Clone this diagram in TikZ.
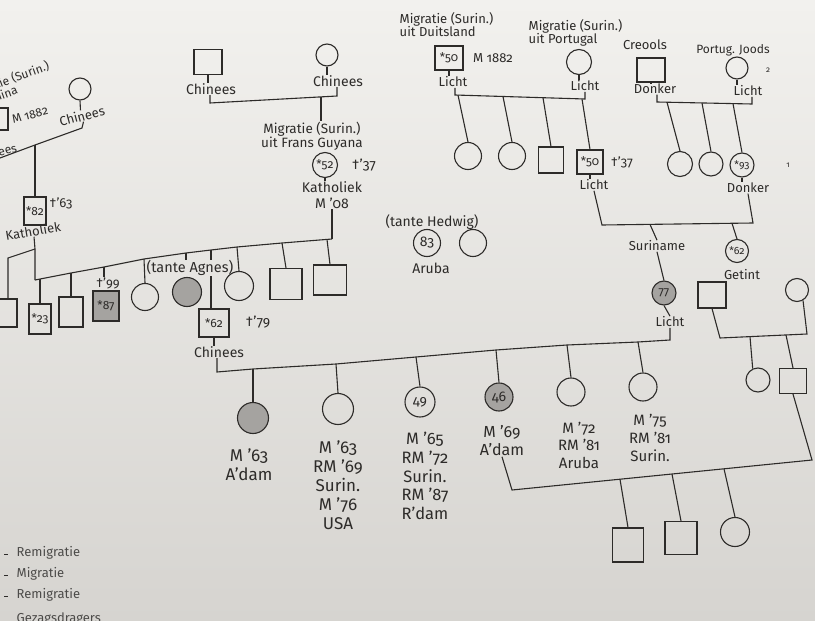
\documentclass[tikz,border=0pt]{standalone}
\usepackage{fontspec}
\setmainfont{Fira Sans}[Numbers=OldStyle]
\definecolor{ink}{RGB}{45,43,41}
\definecolor{shadefill}{RGB}{165,163,160}
\definecolor{papertop}{RGB}{242,241,238}
\definecolor{paperbot}{RGB}{214,212,208}
\tikzset{
  ln/.style={draw=ink, line width=1.1pt},
  sq/.style={draw=ink, line width=1.1pt, rectangle, minimum width=26pt, minimum height=25pt, inner sep=0pt, font=\fontsize{12}{13}\selectfont, text=ink},
  ci/.style={draw=ink, line width=1.1pt, circle, minimum size=26pt, inner sep=0pt, font=\fontsize{12}{13}\selectfont, text=ink},
  gr/.style={fill=shadefill},
  ts/.style={font=\fontsize{13}{13}\selectfont, text=ink, inner sep=0.5pt, align=center},
  tm/.style={font=\fontsize{14}{16}\selectfont, text=ink, inner sep=0.5pt, align=center},
  tb/.style={font=\fontsize{17}{19}\selectfont, text=ink, inner sep=0.5pt, align=center},
  tn/.style={font=\fontsize{8}{9}\selectfont, text=ink, inner sep=0.5pt},
  lg/.style={font=\fontsize{13}{14}\selectfont, text=ink!85, inner sep=0.5pt, anchor=west},
}
\begin{document}
\begin{tikzpicture}[x=1pt,y=-1pt]
\useasboundingbox (0,0) rectangle (815,621);
\shade[top color=papertop, bottom color=paperbot] (0,0) rectangle (815,621);
\clip (0,0) rectangle (815,621);

% ---------- top-left family (cut off) ----------
\node[ts, rotate=20, align=left, anchor=north east, font=\fontsize{12}{12}\selectfont] (tlMig) at (47,59) {Migratie (Surin.)\\uit China};
\node[sq, minimum width=26pt, minimum height=22pt] (tlSq) at (-5,119) {};
\node[ts, rotate=15, font=\fontsize{12}{12}\selectfont] (tlM) at (30,115) {M 1882};
\node[ts, rotate=15, anchor=east, font=\fontsize{12}{12}\selectfont] (tlChA) at (17,147) {Chinees};
\node[ci, minimum size=22pt] (tlC) at (80,89) {};
\node[ts, rotate=15] (tlChB) at (82,116) {Chinees};
\coordinate (tlJa) at (82,128);
\coordinate (tlJb) at (35,145);
\coordinate (tlJc) at (0,158);
\draw[ln] (tlC.south) -- (tlChB.north);
\draw[ln] (tlChB.south) -- (tlJa) -- (tlJb) -- (tlJc);
\node[sq, minimum width=22pt, minimum height=28pt] (s82) at (35,211) {*82};
\draw[ln] (tlJb) -- (s82.north);
\node[ts] (d63) at (61,203) {†'63};
\node[ts, rotate=10] (kat1) at (33,231) {Katholiek};
\coordinate (kJ) at (35,249);
\coordinate (sibL) at (35,280);
\draw[ln] (kat1.south) -- (kJ) -- (sibL);
\coordinate (lJ) at (8,258);
\node[sq, minimum width=26pt, minimum height=28pt] (sL) at (4,313) {};
\draw[ln] (kJ) -- (lJ) -- (lJ |- sL.north);

% ---------- siblings of the middle generation ----------
\coordinate (m1) at (40,279);
\coordinate (m2) at (71,273);
\coordinate (m3) at (104,267);
\coordinate (m4) at (144,259);
\coordinate (m5) at (186,253);
\coordinate (m6) at (211,250);
\coordinate (m7) at (237,247);
\coordinate (m8) at (282,243);
\coordinate (m9) at (327,239.5);
\coordinate (sibR) at (332,239);
\draw[ln] (sibL) -- (m2) -- (m3) -- (m4) -- (m5) -- (m6) -- (m7) -- (m8) -- (sibR);

\node[sq, minimum width=22pt, minimum height=30pt] (s23) at (40,319) {*23};
\draw[ln] (m1) -- (s23.north);
\node[sq, minimum width=24pt, minimum height=30pt] (sB) at (71,312) {};
\draw[ln] (m2) -- (sB.north);
\node[ts] (d99) at (108,283) {†'99};
\node[sq, gr, minimum width=26pt, minimum height=30pt] (s87) at (106,306) {*87};
\draw[ln] (m3) -- (m3 |- d99.north);
\node[ci, minimum size=27pt] (cA) at (145,297) {};
\draw[ln] (m4) -- (cA.north);
\node[tm, font=\fontsize{14.5}{16}\selectfont] (tAg) at (190,268) {(tante Agnes)};
\node[ci, gr, minimum size=29pt] (cAg) at (187,292) {};
\draw[ln] (m5) -- (m5 |- tAg.north);
\node[sq, minimum width=30pt, minimum height=28pt] (s62) at (214,323) {*62};
\draw[ln] (m6) -- (m6 |- tAg.north);
\draw[ln] (m6 |- tAg.south) -- (m6 |- s62.north);
\node[tm] (d79) at (258,322) {†'79};
\node[ci, minimum size=29pt] (cC) at (239,286) {};
\draw[ln] (m7) -- (cC.north);
\node[sq, minimum width=32pt, minimum height=31pt] (sD) at (286,284) {};
\draw[ln] (m8) -- (sD.north);
\node[sq, minimum width=33pt, minimum height=30pt] (sE) at (330,280) {};
\draw[ln] (m9) -- (sE.north);

% ---------- top-middle family ----------
\node[sq, minimum width=28pt, minimum height=25pt] (sT1) at (208,62) {};
\node[tm] (tCh1) at (211,89) {Chinees};
\draw[ln] (sT1.south) -- (sT1.south |- tCh1.north);
\node[ci, minimum size=22pt] (cT2) at (327,55) {};
\node[tm] (tCh2) at (338,81) {Chinees};
\draw[ln] (cT2.south) -- (cT2.south |- tCh2.north);
\coordinate (tpA) at (210,103);
\coordinate (tpB) at (337,96);
\coordinate (tpJ) at (321,97);
\draw[ln] (tpA |- tCh1.south) -- (tpA) -- (tpB) -- (tpB |- tCh2.south);
\node[tm, font=\fontsize{13.5}{13}\selectfont] (mig2) at (312,136) {Migratie (Surin.)\\uit Frans Guyana};
\draw[ln] (tpJ) -- (tpJ |- mig2.north);
\node[ci, minimum size=25pt] (c52) at (325,165) {*52};
\node[tm] (d37a) at (364,165) {†'37};
\node[tm] (kat2) at (332,195) {Katholiek\\M '08};
\draw[ln] (c52.south) -- (c52.south |- kat2.north);
\draw[ln] (sibR |- kat2.south) -- (sibR);

% ---------- top-right families ----------
\node[ts, align=left, anchor=north west] (migD) at (399,12) {Migratie (Surin.)\\uit Duitsland};
\node[sq, minimum width=28pt, minimum height=24pt] (s50a) at (449,58) {*50};
\node[ts] (m1882) at (493,58) {M 1882};
\node[ts] (li1) at (453,82) {Licht};
\draw[ln] (s50a.south) -- (s50a.south |- li1.north);
\node[ts, align=left, anchor=north west] (migP) at (528,19) {Migratie (Surin.)\\uit Portugal};
\node[ci, minimum size=25pt] (cP) at (579,62) {};
\node[ts] (li2) at (585,86) {Licht};
\draw[ln] (cP.south) -- (cP.south |- li2.north);
\coordinate (trA) at (455,95);
\coordinate (trB) at (585,99);
\draw[ln] (trA |- li1.south) -- (trA) -- (trB) -- (trB |- li2.south);

\node[ts] (cre) at (645,45) {Creools};
\node[sq, minimum width=28pt, minimum height=24pt] (sCr) at (651,70) {};
\node[ts] (dk1) at (655,89) {Donker};
\draw[ln] (sCr.south) -- (sCr.south |- dk1.north);
\node[ts, font=\fontsize{12}{12}\selectfont] (pj) at (733,50) {Portug. Joods};
\node[ci, minimum size=22pt] (cPJ) at (737,68) {};
\node[ts] (li3) at (748,91) {Licht};
\draw[ln] (cPJ.south) -- (cPJ.south |- li3.north);
\node[tn] (n2) at (768,70) {2};
\coordinate (trC) at (657,102);
\coordinate (trD) at (752,104);
\draw[ln] (trC |- dk1.south) -- (trC) -- (trD) -- (trD |- li3.south);

\coordinate (k1) at (458,95.1);
\coordinate (k2) at (503,96.5);
\coordinate (k3) at (543,97.7);
\coordinate (k4) at (582,98.9);
\node[ci, minimum size=27pt] (c1) at (468,156) {};
\draw[ln] (k1) -- (c1.north);
\node[ci, minimum size=27pt] (c2) at (512,156) {};
\draw[ln] (k2) -- (c2.north);
\node[sq, minimum width=25pt, minimum height=26pt] (s3) at (551,160) {};
\draw[ln] (k3) -- (s3.north);
\node[sq, minimum width=26pt, minimum height=24pt] (s50b) at (590,162) {*50};
\draw[ln] (k4) -- (s50b.north);
\node[ts] (d37b) at (622,162) {†'37};
\node[ts] (li4) at (594,185) {Licht};
\draw[ln] (s50b.south) -- (s50b.south |- li4.north);

\coordinate (k5) at (667,102.2);
\coordinate (k6) at (702,103);
\coordinate (k7) at (733,103.6);
\node[ci, minimum size=25pt] (c4) at (680,164) {};
\draw[ln] (k5) -- (c4.north);
\node[ci, minimum size=24pt] (c5) at (711,164) {};
\draw[ln] (k6) -- (c5.north);
\node[ci, minimum size=24pt, font=\fontsize{10.5}{11}\selectfont] (c93) at (742,165) {*93};
\draw[ln] (k7) -- (c93.north);
\node[ts] (dk2) at (748,188) {Donker};
\draw[ln] (c93.south) -- (c93.south |- dk2.north);
\node[tn] (n1) at (788,165) {1};

\coordinate (brA) at (602,225);
\coordinate (brB) at (753,223);
\draw[ln] (li4.south) -- (brA) -- (brB) -- (dk2.south);
\coordinate (br1) at (650,224.4);
\coordinate (br2) at (732,223.3);
\node[ts] (sur) at (657,246) {Suriname};
\draw[ln] (br1) -- (sur.north);
\node[ci, gr, minimum size=24pt] (c77) at (664,293) {77};
\draw[ln] (sur.south) -- (c77.north);
\node[ts] (li5) at (670,322) {Licht};
\draw[ln] (c77.south) -- (li5.north);
\node[ci, minimum size=23pt, font=\fontsize{10.5}{11}\selectfont] (c62b) at (737,251) {*62};
\draw[ln] (br2) -- (c62b.north);
\node[ts] (get) at (742,275) {Getint};

% ---------- right family ----------
\node[sq, minimum width=28pt, minimum height=26pt] (sR) at (712,295) {};
\node[ci, minimum size=23pt] (cR) at (797,290) {};
\coordinate (rA) at (720,338);
\coordinate (rB) at (807,334);
\draw[ln] (sR.south) -- (rA) -- (rB) -- (cR.-60);
\coordinate (r1) at (750,336.6);
\coordinate (r2) at (786,335);
\node[ci, minimum size=24pt] (cR1) at (758,380) {};
\draw[ln] (r1) -- (cR1.115);
\node[sq, minimum width=27pt, minimum height=25pt] (sR2) at (793,381) {};
\draw[ln] (r2) -- (sR2.north);

% ---------- bottom generation ----------
\node[tm] (tCh3) at (219,352) {Chinees};
\draw[ln] (s62.south) -- (s62.south |- tCh3.north);
\coordinate (b0) at (217,372);
\coordinate (b1) at (253,369);
\coordinate (b2) at (336,364);
\coordinate (b3) at (416,357);
\coordinate (b4) at (496,350);
\coordinate (b5) at (567,345);
\coordinate (b6) at (638,342);
\coordinate (b7) at (670,340);
\draw[ln] (b0 |- tCh3.south) -- (b0) -- (b1) -- (b2) -- (b3) -- (b4) -- (b5) -- (b6) -- (b7) -- (b7 |- li5.south);

\node[ci, gr, minimum size=31pt] (g1) at (253,418) {};
\draw[ln] (b1) -- (g1.north);
\node[tb] (g1t) at (249,465) {M '63\\A'dam};
\node[ci, minimum size=31pt] (g2) at (338,409) {};
\draw[ln] (b2) -- (g2.north);
\node[tb] (g2t) at (338,485) {M '63\\RM '69\\Surin.\\M '76\\USA};
\node[ci, minimum size=30pt, font=\fontsize{14}{15}\selectfont] (g3) at (420,402) {49};
\draw[ln] (b3) -- (g3.north);
\node[tb, font=\fontsize{16.5}{18.8}\selectfont] (g3t) at (425,476) {M '65\\RM '72\\Surin.\\RM '87\\R'dam};
\node[ci, gr, minimum size=28pt, font=\fontsize{14}{15}\selectfont] (g4) at (499,397) {46};
\draw[ln] (b4) -- (g4.north);
\node[tb, font=\fontsize{16}{18}\selectfont] (g4t) at (502,441) {M '69\\A'dam};
\node[ci, minimum size=28pt] (g5) at (571,392) {};
\draw[ln] (b5) -- (g5.north);
\node[tb, font=\fontsize{15}{17.5}\selectfont] (g5t) at (579,445) {M '72\\RM '81\\Aruba};
\node[ci, minimum size=28pt] (g6) at (643,387) {};
\draw[ln] (b6) -- (g6.north);
\node[tb, font=\fontsize{15}{18}\selectfont] (g6t) at (650,438) {M '75\\RM '81\\Surin.};

% ---------- grandchildren ----------
\coordinate (gA) at (512,490);
\coordinate (gB) at (812,460);
\draw[ln] (g4t.south) -- (gA) -- (gB) -- (sR2.south);
\coordinate (gj1) at (620,479.2);
\coordinate (gj2) at (672,474);
\coordinate (gj3) at (724,468.8);
\node[sq, minimum width=31pt, minimum height=34pt] (h1) at (628,545) {};
\draw[ln] (gj1) -- (h1.north);
\node[sq, minimum width=32pt, minimum height=33pt] (h2) at (681,538) {};
\draw[ln] (gj2) -- (h2.north);
\node[ci, minimum size=29pt] (h3) at (735,532) {};
\draw[ln] (gj3) -- (h3.north);

% ---------- tante Hedwig ----------
\node[tm] (tHe) at (432,222) {(tante Hedwig)};
\node[ci, minimum size=27pt, font=\fontsize{14}{15}\selectfont] (c83) at (427,243) {83};
\node[ci, minimum size=27pt] (cHe) at (473,243) {};
\node[tm] (aru) at (431,268) {Aruba};

% ---------- legend (cut off) ----------
\node[lg] (lg1) at (16,553) {Remigratie};
\node[lg] (lg2) at (16,574) {Migratie};
\node[lg] (lg3) at (16,595) {Remigratie};
\node[lg] (lg4) at (16,619) {Gezagsdragers};
\draw[ink, line width=1pt] (4,554) -- (8,554);
\draw[ink, line width=1pt] (4,575) -- (8,575);
\draw[ink, line width=1pt] (4,596) -- (8,596);
\end{tikzpicture}
\end{document}
